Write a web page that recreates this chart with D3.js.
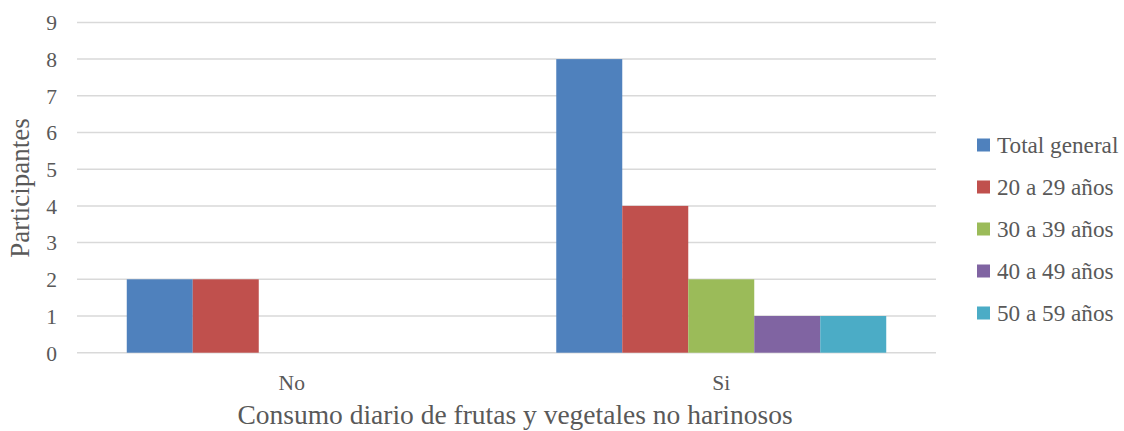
<!DOCTYPE html>
<html>
<head>
<meta charset="utf-8">
<script src="https://cdn.jsdelivr.net/npm/d3@7"></script>
<style>
  html, body { margin: 0; padding: 0; background: #fff; }
</style>
</head>
<body>
<svg id="chart" width="1124" height="431"></svg>
<script>
// Daily consumption of fruits and non-starchy vegetables, by age group
const categories = ["No", "Si"];
const seriesNames = ["Total general", "20 a 29 años", "30 a 39 años", "40 a 49 años", "50 a 59 años"];
const totalGeneral = [2, 8];
const age20to29 = [2, 4];
const age30to39 = [0, 2];
const age40to49 = [0, 1];
const age50to59 = [0, 1];
const yTicks = [0, 1, 2, 3, 4, 5, 6, 7, 8, 9];
const colors = ["#4F81BD", "#C0504D", "#9BBB59", "#8064A2", "#4BACC6"];

const seriesValues = [totalGeneral, age20to29, age30to39, age40to49, age50to59];
const FONT = '"Liberation Serif", "Times New Roman", serif';
const TEXT_COLOR = "#595959";

const svg = d3.select("#chart");
const plot = { left: 77, right: 936, top: 22.4, bottom: 352.7 };

const x0 = d3.scaleBand().domain(categories).range([plot.left, plot.right]).padding(0);
const x1 = d3.scaleBand().domain(seriesNames).range([0, x0.bandwidth()]).paddingInner(0).paddingOuter(0.754);
const y = d3.scaleLinear().domain([0, 9]).range([plot.bottom, plot.top]);

// Horizontal gridlines
svg.append("g")
  .selectAll("line")
  .data(yTicks)
  .join("line")
  .attr("x1", plot.left).attr("x2", plot.right)
  .attr("y1", d => y(d)).attr("y2", d => y(d))
  .attr("stroke", "#D9D9D9").attr("stroke-width", 1.5);

// Y axis labels
const yAxis = d3.axisLeft(y).tickValues(yTicks).tickSize(0).tickPadding(0).tickFormat(d3.format("d"));
const yg = svg.append("g").attr("transform", `translate(57,0)`).call(yAxis)
  .attr("font-family", FONT).attr("font-size", 21.5);
yg.select(".domain").remove();
yg.selectAll("text").attr("fill", TEXT_COLOR).attr("dy", "0.34em");

// X axis labels
const xAxis = d3.axisBottom(x0).tickSize(0).tickPadding(0);
const xg = svg.append("g").attr("transform", `translate(0,${plot.bottom + 22})`).call(xAxis)
  .attr("font-family", FONT).attr("font-size", 21.5);
xg.select(".domain").remove();
xg.selectAll("text").attr("fill", TEXT_COLOR).attr("dy", "0.71em");

// Bars
const groups = svg.append("g")
  .selectAll("g")
  .data(categories)
  .join("g")
  .attr("transform", d => `translate(${x0(d)},0)`);

groups.selectAll("rect")
  .data((c, ci) => seriesNames.map((s, si) => ({ s, si, v: seriesValues[si][ci] })).filter(d => d.v > 0))
  .join("rect")
  .attr("x", d => x1(d.s))
  .attr("width", x1.bandwidth())
  .attr("y", d => y(d.v))
  .attr("height", d => y(0) - y(d.v))
  .attr("fill", d => colors[d.si]);

// Axis titles
svg.append("text")
  .attr("x", 515).attr("y", 424)
  .attr("text-anchor", "middle")
  .attr("font-family", FONT).attr("font-size", 27.5).attr("fill", TEXT_COLOR)
  .text("Consumo diario de frutas y vegetales no harinosos");

svg.append("text")
  .attr("transform", "translate(29,188) rotate(-90)")
  .attr("text-anchor", "middle")
  .attr("font-family", FONT).attr("font-size", 27).attr("fill", TEXT_COLOR)
  .text("Participantes");

// Legend
const legend = svg.append("g")
  .attr("font-family", FONT).attr("font-size", 23.2)
  .selectAll("g")
  .data(seriesNames)
  .join("g")
  .attr("transform", (d, i) => `translate(977,${145 + i * 42})`);

legend.append("rect")
  .attr("x", 0).attr("y", -6.5)
  .attr("width", 13).attr("height", 13)
  .attr("fill", (d, i) => colors[i]);

legend.append("text")
  .attr("x", 20).attr("y", 0).attr("dy", "0.34em")
  .attr("fill", TEXT_COLOR)
  .text(d => d);
</script>
</body>
</html>
